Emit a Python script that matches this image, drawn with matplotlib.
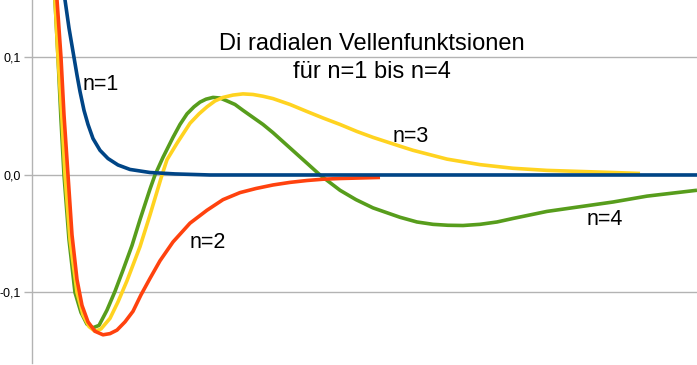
import matplotlib
matplotlib.use('Agg')
import matplotlib.pyplot as plt

plt.rcParams['font.family'] = ['Liberation Sans', 'DejaVu Sans']

# n=1
r1 = [2.9, 3.3, 3.7, 4.2, 4.5, 4.8, 5.2, 5.6, 6.1, 6.8, 7.6, 8.6, 9.8, 11.8, 14.3, 17.8, 26.8, 66.5]
psi1 = [0.170, 0.149, 0.125, 0.100, 0.085, 0.071, 0.055, 0.043, 0.031, 0.021, 0.014, 0.0085,
        0.0047, 0.0021, 0.0009, 0.0, 0.0, 0.0]

# n=2
r2 = [2.1, 2.5, 2.9, 3.2, 3.6, 4.0, 4.5, 5.0, 5.6, 6.3, 7.1, 7.8, 8.5, 9.3, 10.1, 10.9, 11.8,
      12.8, 14.1, 15.8, 17.5, 19.1, 20.8, 22.4, 24.1, 25.8, 27.5, 29.1, 30.8, 34.8]
psi2 = [0.170, 0.149, 0.100, 0.051, 0.0, -0.051, -0.089, -0.111, -0.125, -0.133, -0.136, -0.135,
        -0.132, -0.125, -0.116, -0.102, -0.088, -0.073, -0.057, -0.041, -0.030, -0.021, -0.015,
        -0.0115, -0.0085, -0.0063, -0.0047, -0.0036, -0.003, -0.0021]

# n=3
r3 = [1.9, 2.3, 2.6, 3.0, 3.3, 3.8, 4.5, 5.1, 5.7, 6.3, 6.9, 7.8, 8.6, 9.5, 10.8, 11.8, 12.4,
      13.0, 13.5, 14.5, 15.8, 16.7, 17.5, 18.3, 19.1, 20.1, 21.1, 22.1, 23.1, 24.1, 25.8, 27.5,
      29.1, 30.8, 32.5, 34.1, 36.8, 38.1, 41.5, 44.8, 48.1, 51.5, 54.8, 58.1, 60.8]
psi3 = [0.170, 0.149, 0.100, 0.047, 0.0, -0.055, -0.100, -0.119, -0.129, -0.133, -0.131, -0.122,
        -0.108, -0.090, -0.061, -0.034, -0.017, 0.0, 0.013, 0.027, 0.044, 0.052, 0.058, 0.063,
        0.066, 0.068, 0.069, 0.0685, 0.067, 0.065, 0.060, 0.054, 0.0485, 0.043, 0.037, 0.032,
        0.0245, 0.021, 0.0135, 0.0088, 0.0057, 0.0039, 0.003, 0.0021, 0.0013]

# n=4
r4 = [1.9, 2.3, 2.6, 2.9, 3.2, 3.7, 4.3, 4.9, 5.5, 6.1, 6.7, 7.5, 8.3, 9.1, 10.0, 10.8, 11.8,
      12.3, 13.1, 14.1, 14.8, 15.5, 16.2, 16.8, 17.4, 18.1, 18.8, 19.5, 20.3, 21.1, 22.1, 23.1,
      24.1, 25.8, 27.5, 28.8, 30.8, 32.4, 34.1, 36.8, 38.5, 40.1, 41.6, 43.1, 44.8, 46.5, 48.1,
      51.5, 54.8, 58.1, 61.5, 66.5]
psi4 = [0.170, 0.149, 0.100, 0.047, 0.0, -0.055, -0.100, -0.117, -0.127, -0.130, -0.128, -0.115,
        -0.099, -0.081, -0.060, -0.038, -0.012, 0.0, 0.015, 0.032, 0.043, 0.052, 0.058, 0.062,
        0.0645, 0.066, 0.0655, 0.063, 0.060, 0.055, 0.049, 0.043, 0.036, 0.023, 0.010, 0.0,
        -0.013, -0.021, -0.028, -0.036, -0.040, -0.042, -0.0428, -0.043, -0.042, -0.040, -0.037,
        -0.031, -0.027, -0.023, -0.018, -0.013]

y_ticks = [-0.1, 0.0, 0.1]
y_tick_labels = ['-0,1', '0,0', '0,1']

fig = plt.figure(figsize=(6.97, 3.65), dpi=100)
ax = fig.add_axes([32 / 697, 2 / 365, 1 - 32 / 697, 1 - 2 / 365])

line_kw = dict(lw=2.6, solid_joinstyle='round', solid_capstyle='butt')
ax.plot(r4, psi4, color='#579d1c', zorder=3, **line_kw)
ax.plot(r3, psi3, color='#ffd320', zorder=4, **line_kw)
ax.plot(r2, psi2, color='#ff420e', zorder=5, **line_kw)
ax.plot(r1, psi1, color='#004586', zorder=6, **line_kw)

ax.set_xlim(0, 66.5)
ax.set_ylim(-0.160, 0.1489)
ax.set_yticks(y_ticks)
ax.set_yticklabels(y_tick_labels, fontsize=9)
ax.set_xticks([])
ax.grid(axis='y', color='#b3b3b3', lw=1, zorder=1)
ax.tick_params(axis='y', length=6, width=1, color='#b3b3b3', pad=2)
for s in ['top', 'right', 'bottom']:
    ax.spines[s].set_visible(False)
ax.spines['left'].set_color('#b3b3b3')
ax.spines['left'].set_linewidth(1)

# Beschriftungen
ax.text(5.1, 0.072, 'n=1', fontsize=15.5, va='baseline', zorder=7)
ax.text(15.8, -0.062, 'n=2', fontsize=15.5, va='baseline', zorder=7)
ax.text(36.1, 0.028, 'n=3', fontsize=15.5, va='baseline', zorder=7)
ax.text(55.5, -0.0425, 'n=4', fontsize=15.5, va='baseline', zorder=7)

fig.text(372 / 697, 1 - 50 / 365, 'Di radialen Vellenfunktsionen', fontsize=17,
         ha='center', va='baseline')
fig.text(372 / 697, 1 - 78 / 365, 'für n=1 bis n=4', fontsize=17,
         ha='center', va='baseline')

fig.savefig('out.png', dpi=100)
